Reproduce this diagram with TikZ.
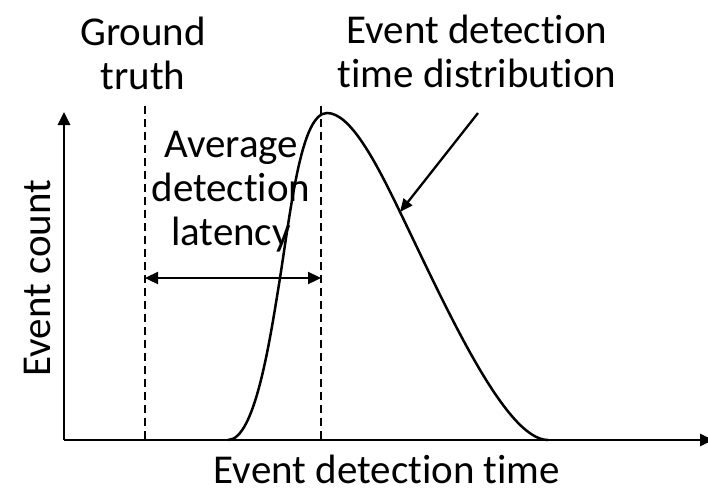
\documentclass[tikz,border=0pt]{standalone}
\usepackage{fontspec}
\setmainfont{Carlito}[Ligatures={NoCommon}]
\usetikzlibrary{arrows.meta}
\begin{document}
\begin{tikzpicture}[x=1pt,y=-1pt,
  lbl/.style={font=\fontsize{41}{44}\selectfont, inner sep=0pt, align=center},
  axis/.style={line width=2.8pt, -{Triangle[length=13pt,width=12pt]}},
  guide/.style={line width=2.5pt, dash pattern=on 8pt off 5pt},
  curve/.style={line width=2.5pt},
  pointer/.style={line width=2.3pt, -{Triangle[length=13pt,width=11pt]}}
]
\useasboundingbox (0,0) rectangle (708,492);
% axes
\coordinate (O) at (64,440);
\coordinate (ytop) at (64,112);
\coordinate (xend) at (713,440);
\draw[axis] (O) -- (ytop);
\draw[axis] (O) -- (xend);
% guide lines
\coordinate (g1top) at (145,106);
\coordinate (g1bot) at (145,440);
\coordinate (g2top) at (321,106);
\coordinate (g2bot) at (321,440);
\draw[guide] (g1top) -- (g1bot);
\draw[guide] (g2top) -- (g2bot);
% latency arrow
\coordinate (la) at (145,278);
\coordinate (lb) at (321,278);
\draw[line width=2.3pt, {Triangle[length=13pt,width=12pt]}-{Triangle[length=13pt,width=12pt]}] (la) -- (lb);
% distribution curve
\coordinate (c0) at (228,440);
\coordinate (c1) at (280,278);
\coordinate (peak) at (327,113);
\coordinate (c3) at (400,212);
\coordinate (c4) at (548,440);
\draw[curve] (c0) .. controls (255,440) and (270,340) .. (c1)
  .. controls (292,200) and (302,113) .. (peak)
  .. controls (350,113) and (375,160) .. (c3)
  .. controls (445,305) and (505,440) .. (c4);
% pointer
\coordinate (pstart) at (478,113);
\draw[pointer] (pstart) -- (c3);
% labels
\node[lbl, anchor=base] (gt) at (143,90) {Ground\\truth};
\node[lbl, anchor=base] (edtd) at (477,88) {Event detection\\time distribution};
\node[lbl, anchor=base] (adl) at (231,245) {Average\\detection\\latency};
\node[lbl, anchor=base, rotate=90] (ec) at (50,278) {Event count};
\node[lbl, anchor=base] (edt) at (387,483) {Event detection time};
\end{tikzpicture}
\end{document}
